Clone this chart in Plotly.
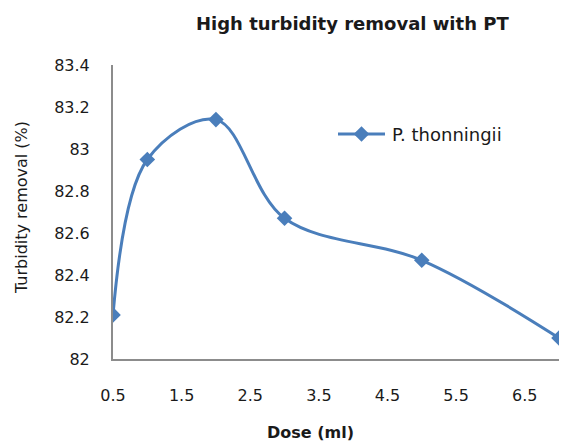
import plotly.graph_objects as go

dose = [0.5, 1, 2, 3, 5, 7]
removal = [82.21, 82.95, 83.14, 82.67, 82.47, 82.10]
series_name = "P. thonningii"
x_ticks = [0.5, 1.5, 2.5, 3.5, 4.5, 5.5, 6.5]
y_ticks = [82, 82.2, 82.4, 82.6, 82.8, 83, 83.2, 83.4]

W, H = 568, 441
L, R, T, B = 113, 9, 65, 82
pw, ph = W - L - R, H - T - B
FONT = "DejaVu Sans"
BLUE = "#4a7ebb"
TXT = "#1a1a1a"

fig = go.Figure()
fig.add_trace(go.Scatter(
    x=dose, y=removal, mode="lines+markers", name=series_name,
    line=dict(color=BLUE, width=3, shape="spline", smoothing=1.0),
    marker=dict(symbol="diamond", size=12, color=BLUE),
    showlegend=False,
))

fig.update_layout(
    width=W, height=H,
    margin=dict(l=L, r=R, t=T, b=B),
    paper_bgcolor="white", plot_bgcolor="white",
    font=dict(family=FONT, size=16, color=TXT),
    xaxis=dict(range=[0.5, 7], tickvals=x_ticks, ticktext=[str(v) for v in x_ticks],
               showgrid=False, zeroline=False, showline=True, linecolor="#8c8c8c", linewidth=2,
               ticks="", ticklabelstandoff=21, tickfont=dict(size=16, color=TXT)),
    yaxis=dict(range=[82, 83.4], tickvals=y_ticks, ticktext=[f"{v:g}" for v in y_ticks],
               showgrid=False, zeroline=False, showline=True, linecolor="#8c8c8c", linewidth=2,
               ticks="", ticklabelstandoff=18, tickfont=dict(size=16, color=TXT)),
)

def px(x):
    return (x - L) / pw

def py(y):
    return (H - B - y) / ph

annots = [
    dict(text="<b>High turbidity removal with PT</b>", x=px(352), y=py(24), font=dict(size=18)),
    dict(text="<b>Dose (ml)</b>", x=px(310), y=py(432), font=dict(size=16)),
    dict(text="Turbidity removal (%)", x=px(21), y=py(208), textangle=-90, font=dict(size=16)),
    dict(text=series_name, x=px(390), y=py(134), xanchor="left", font=dict(size=18)),
]
for a in annots:
    a.setdefault("xanchor", "center")
    fig.add_annotation(xref="paper", yref="paper", yanchor="middle", showarrow=False, **a)

# legend sample line + marker
fig.add_shape(type="line", xref="paper", yref="paper", x0=px(338), x1=px(385), y0=py(134), y1=py(134),
              line=dict(color=BLUE, width=3))
fig.add_trace(go.Scatter(x=[(px(361.5))], y=[py(134)], xaxis="x2", yaxis="y2", mode="markers",
                         marker=dict(symbol="diamond", size=12, color=BLUE), showlegend=False,
                         hoverinfo="skip"))
fig.update_layout(
    xaxis2=dict(domain=[0, 1], range=[0, 1], visible=False, overlaying="x", anchor="y2"),
    yaxis2=dict(domain=[0, 1], range=[0, 1], visible=False, overlaying="y", anchor="x2"),
)

fig.write_html("out.html")
